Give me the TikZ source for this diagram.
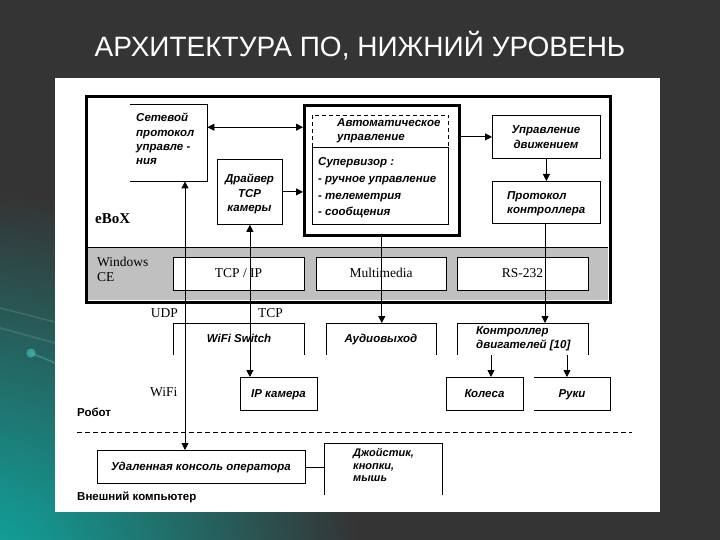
\documentclass[tikz,border=0pt]{standalone}
\usepackage{fontspec}
\setmainfont{Liberation Serif}
\newfontfamily\sansf{Liberation Sans}
\usetikzlibrary{arrows.meta}
\definecolor{bgdark}{RGB}{52,52,52}
\definecolor{tealc}{RGB}{14,170,162}
\definecolor{bandgray}{RGB}{192,192,192}
\tikzset{
  thinbox/.style={draw=black, line width=0.8pt, fill=white, inner sep=0pt, anchor=north west},
  openbox/.style={draw=none, inner sep=0pt, anchor=north west},
  thickbox/.style={draw=black, line width=2.6pt, inner sep=0pt, anchor=north west},
  boxtxt/.style={font=\sansf\bfseries\itshape\fontsize{11.5}{14.3}\selectfont, inner sep=0pt},
  sertxt/.style={font=\fontsize{13.5}{16}\selectfont, inner sep=0pt},
  labtxt/.style={font=\sansf\bfseries\fontsize{11.5}{13}\selectfont, inner sep=0pt},
  conn/.style={line width=0.8pt},
  arr/.style={conn, -{Triangle[length=7pt,width=7pt]}},
  darr/.style={conn, {Triangle[length=7pt,width=7pt]}-{Triangle[length=7pt,width=7pt]}},
}
\begin{document}
\begin{tikzpicture}[x=1pt,y=-1pt]
\useasboundingbox (0,0) rectangle (720,540);
% background
\fill[bgdark] (0,0) rectangle (720,540);
\begin{scope}
\clip (0,0) rectangle (720,540);
\shade[inner color=tealc, outer color=bgdark] (-20,575) circle (380pt);
\end{scope}
\draw[line width=1.5pt, white, opacity=0.12, line cap=round] (0,308) -- (55,322);
\draw[line width=2pt, white, opacity=0.10, line cap=round] (0,328) -- (55,343);
\draw[line width=1.5pt, tealc!60!white, opacity=0.35, line cap=round] (31,353) -- (55,363);
\fill[tealc!80!white, opacity=0.7] (31,353) circle (4.5pt);
% title
\node[font=\sansf\fontsize{28}{32}\selectfont, text=white, anchor=base, inner sep=0pt] (title) at (360,57) {АРХИТЕКТУРА ПО, НИЖНИЙ УРОВЕНЬ};
% white panel
\fill[white] (55,78) rectangle (660,512);
% Windows CE band
\fill[bandgray] (86,247) rectangle (608,300);
\draw[conn] (86,247) -- (608,247);

% boxes
\node[openbox, minimum width=77pt, minimum height=77pt] (set) at (130,104) {};
\node[thinbox, minimum width=65pt, minimum height=65pt] (drv) at (217,159) {};
\node[thickbox, fill=white, minimum width=155pt, minimum height=130pt] (sup) at (303,104) {};
\node[openbox, minimum width=136pt, minimum height=32pt] (auto) at (312,115) {};
\node[thinbox, minimum width=136pt, minimum height=77pt] (supv) at (312,147) {};
\node[thinbox, minimum width=108pt, minimum height=43pt] (upr) at (492,115) {};
\node[thinbox, minimum width=108pt, minimum height=42pt] (prot) at (492,181) {};
\node[thinbox, minimum width=131pt, minimum height=33pt] (tcpip) at (173,257) {};
\node[thinbox, minimum width=130pt, minimum height=33pt] (mm) at (316,257) {};
\node[thinbox, minimum width=131pt, minimum height=33pt] (rs) at (457,257) {};
\node[openbox, minimum width=131pt, minimum height=32pt] (sw) at (173,323) {};
\node[openbox, minimum width=110pt, minimum height=32pt] (audio) at (326,323) {};
\node[openbox, minimum width=131pt, minimum height=32pt] (ctrl) at (457,323) {};
\node[thinbox, minimum width=77pt, minimum height=33pt] (ipc) at (240,377) {};
\node[thinbox, minimum width=77pt, minimum height=33pt] (kol) at (446,377) {};
\node[openbox, minimum width=76pt, minimum height=33pt] (ruki) at (534,377) {};
\node[thinbox, minimum width=208pt, minimum height=33pt] (con) at (97,450) {};
\node[openbox, minimum width=118pt, minimum height=52pt] (joy) at (324,443) {};

% open box outlines
\draw[conn] (set.north west) -- (set.north east) -- (set.south east) -- (set.south west);
\draw[conn] (ruki.north west) -- (ruki.north east) -- (ruki.south east) -- (ruki.south west);
\draw[conn] (sw.south west) -- (sw.north west) -- (sw.north east) -- (sw.south east);
\draw[conn] (audio.south west) -- (audio.north west) -- (audio.north east) -- (audio.south east);
\draw[conn] (ctrl.south west) -- (ctrl.north west) -- (ctrl.north east) -- (ctrl.south east);
\draw[conn] (joy.south west) -- (joy.north west) -- (joy.north east) -- (joy.south east);
\draw[conn, dash pattern=on 4pt off 3pt] (auto.south west) -- (auto.north west) -- (auto.north east) -- (auto.south east);

% texts
\node[boxtxt, align=left, anchor=west] (tset) at (136,139) {Сетевой\\протокол\\управле -\\ния};
\node[boxtxt, align=center] (tdrv) at (249.5,194) {Драйвер\\TCP\\камеры};
\node[boxtxt, align=left, anchor=west] (tauto) at (337,131) {Автоматическое\\управление};
\node[boxtxt, align=left, anchor=west, font=\sansf\bfseries\itshape\fontsize{11.5}{16.7}\selectfont] (tsupv) at (318,188) {Супервизор :\\- ручное управление\\- телеметрия\\- сообщения};
\node[boxtxt, align=center] (tupr) at (546,137) {Управление\\движением};
\node[boxtxt, align=left, anchor=west] (tprot) at (507,204) {Протокол\\контроллера};
\node[font=\bfseries\fontsize{15}{17}\selectfont, anchor=base west, inner sep=0pt] (tebox) at (95,223) {eBoX};
\node[sertxt, anchor=base west] (twin) at (97,266) {Windows};
\node[sertxt, anchor=base west] (tce) at (97,281) {CE};
\node[sertxt, anchor=base] (ttcp) at (238.5,277) {TCP / IP};
\node[sertxt, anchor=base] (tmm) at (381,277) {Multimedia};
\node[sertxt, anchor=base] (trs) at (522.5,277) {RS-232};
\node[sertxt, anchor=base east] (tudp) at (178,317) {UDP};
\node[sertxt, anchor=base west] (ttcp2) at (258,317) {TCP};
\node[sertxt, anchor=base west] (twifi) at (150,396) {WiFi};
\node[boxtxt, anchor=mid] (tsw) at (239,340) {WiFi Switch};
\node[boxtxt, anchor=mid] (taudio) at (381,340) {Аудиовыход};
\node[boxtxt, align=left, anchor=west] (tctrl) at (476,339) {Контроллер\\двигателей [10]};
\node[boxtxt, anchor=mid] (tipc) at (278.5,395) {IP камера};
\node[boxtxt, anchor=mid] (tkol) at (484.5,395) {Колеса};
\node[boxtxt, anchor=mid] (truki) at (572,395) {Руки};
\node[labtxt, anchor=mid west] (trob) at (77,414) {Робот};
\node[boxtxt, anchor=mid] (tcon) at (201,468) {Удаленная консоль оператора};
\node[boxtxt, align=left, anchor=west, font=\sansf\bfseries\itshape\fontsize{11}{12.5}\selectfont] (tjoy) at (353,465) {Джойстик,\\кнопки,\\мышь};
\node[labtxt, anchor=mid west] (text) at (77,498) {Внешний компьютер};

% separator
\draw[conn, dash pattern=on 5pt off 3pt] (77,432) -- (632,432);

% connectors
\coordinate (s1) at ([yshift=15.5pt]set.east);
\draw[darr] (s1) -- (s1 -| sup.west);
\draw[arr] (drv.east) -- (drv.east -| sup.west);
\draw[arr] (upr.west -| sup.east) -- (upr.west);
\draw[arr] (upr.south) -- (prot.north);
\coordinate (px) at (545,0);
\draw[arr] (prot.south -| px) -- (ctrl.north -| px);
\draw[arr] (sup.south) -- (sup.south |- audio.north);
\coordinate (ux) at (185,0);
\draw[darr] (set.south -| ux) -- (con.north -| ux);
\draw[darr] (drv.south) -- (drv.south |- ipc.north);
\coordinate (kx) at (491,0);
\coordinate (rx) at (567,0);
\draw[arr] (ctrl.south -| kx) -- (kol.north -| kx);
\draw[arr] (ctrl.south -| rx) -- (ruki.north -| rx);
\draw[conn] (con.east) -- (con.east -| joy.west);

% eBoX frame
\node[thickbox, line width=3pt, minimum width=524pt, minimum height=206pt] (ebox) at (85,95) {};
\end{tikzpicture}
\end{document}
